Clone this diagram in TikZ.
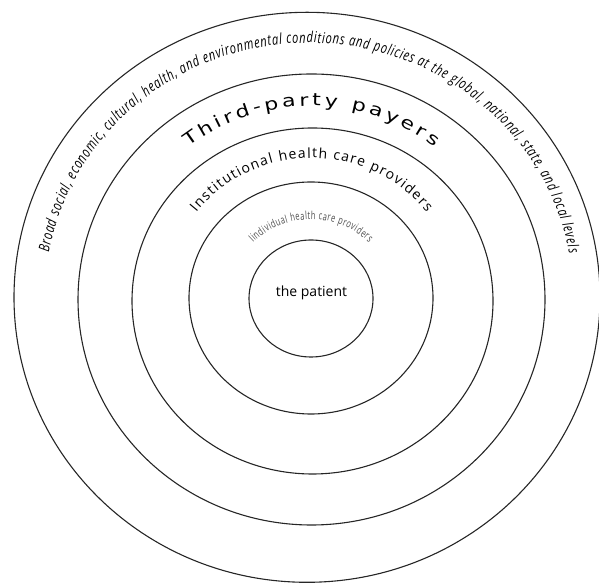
\documentclass[tikz,border=0pt]{standalone}
\usepackage{fontspec}
\setmainfont{Open Sans}
\newfontfamily\outerfont[FakeStretch=0.74]{Open Sans}
\newfontfamily\payerfont[FakeStretch=1.3]{DejaVu Sans}
\newfontfamily\narrowfont[FakeStretch=0.68]{Open Sans}
\usetikzlibrary{decorations.text}

\begin{document}
\begin{tikzpicture}[
x=0.5pt,
y=0.5pt,
ring/.style={
draw=black!85,
line width=0.55pt
},
arclabel/.style={
decorate,
decoration={text along path, text align={fit to path}, #1}
}
]
\useasboundingbox (0,0) rectangle (599,583);

% Rings
\coordinate (world) at (307,285.7);
\coordinate (payers) at (311.5,283.5);
\coordinate (institution) at (312.5,282);
\coordinate (individual) at (311,285);
\coordinate (centre) at (311,284.5);

\draw[ring] (world) ellipse [x radius=293, y radius=285];
\draw[ring] (payers) ellipse [x radius=233.5, y radius=225.5];
\draw[ring] (institution) ellipse [x radius=180.5, y radius=173];
\draw[ring] (individual) ellipse [x radius=122, y radius=116];
\draw[ring] (centre) ellipse [x radius=62, y radius=58.5];

% Labels
\node[anchor=base, font=\fontsize{7}{8}\selectfont] (patient) at (311.5,286) {the patient};

\path[arclabel={text={|\outerfont\itshape\fontsize{7.5}{9}\selectfont|Broad social, economic, cultural, health, and environmental conditions and policies at the global, national, state, and local levels}}]
(309,286) ++(170:264 and 254) arc[start angle=170, end angle=10, x radius=264, y radius=254];

\path[arclabel={text={|\payerfont\fontsize{8.5}{10}\selectfont|Third-party payers}}]
(311.5,284) ++(128:200 and 193) arc[start angle=128, end angle=52, x radius=200, y radius=193];

\path[arclabel={text={|\fontsize{7}{8}\selectfont|Institutional health care providers}}]
(311.5,284) ++(142:146 and 141) arc[start angle=142, end angle=38, x radius=146, y radius=141];

\path[arclabel={text={|\narrowfont\color{black!70}\fontsize{5.5}{6.5}\selectfont|Iindividual health care providers}}]
(311,284.5) ++(135:82 and 79) arc[start angle=135, end angle=45, x radius=82, y radius=79];

\end{tikzpicture}
\end{document}
